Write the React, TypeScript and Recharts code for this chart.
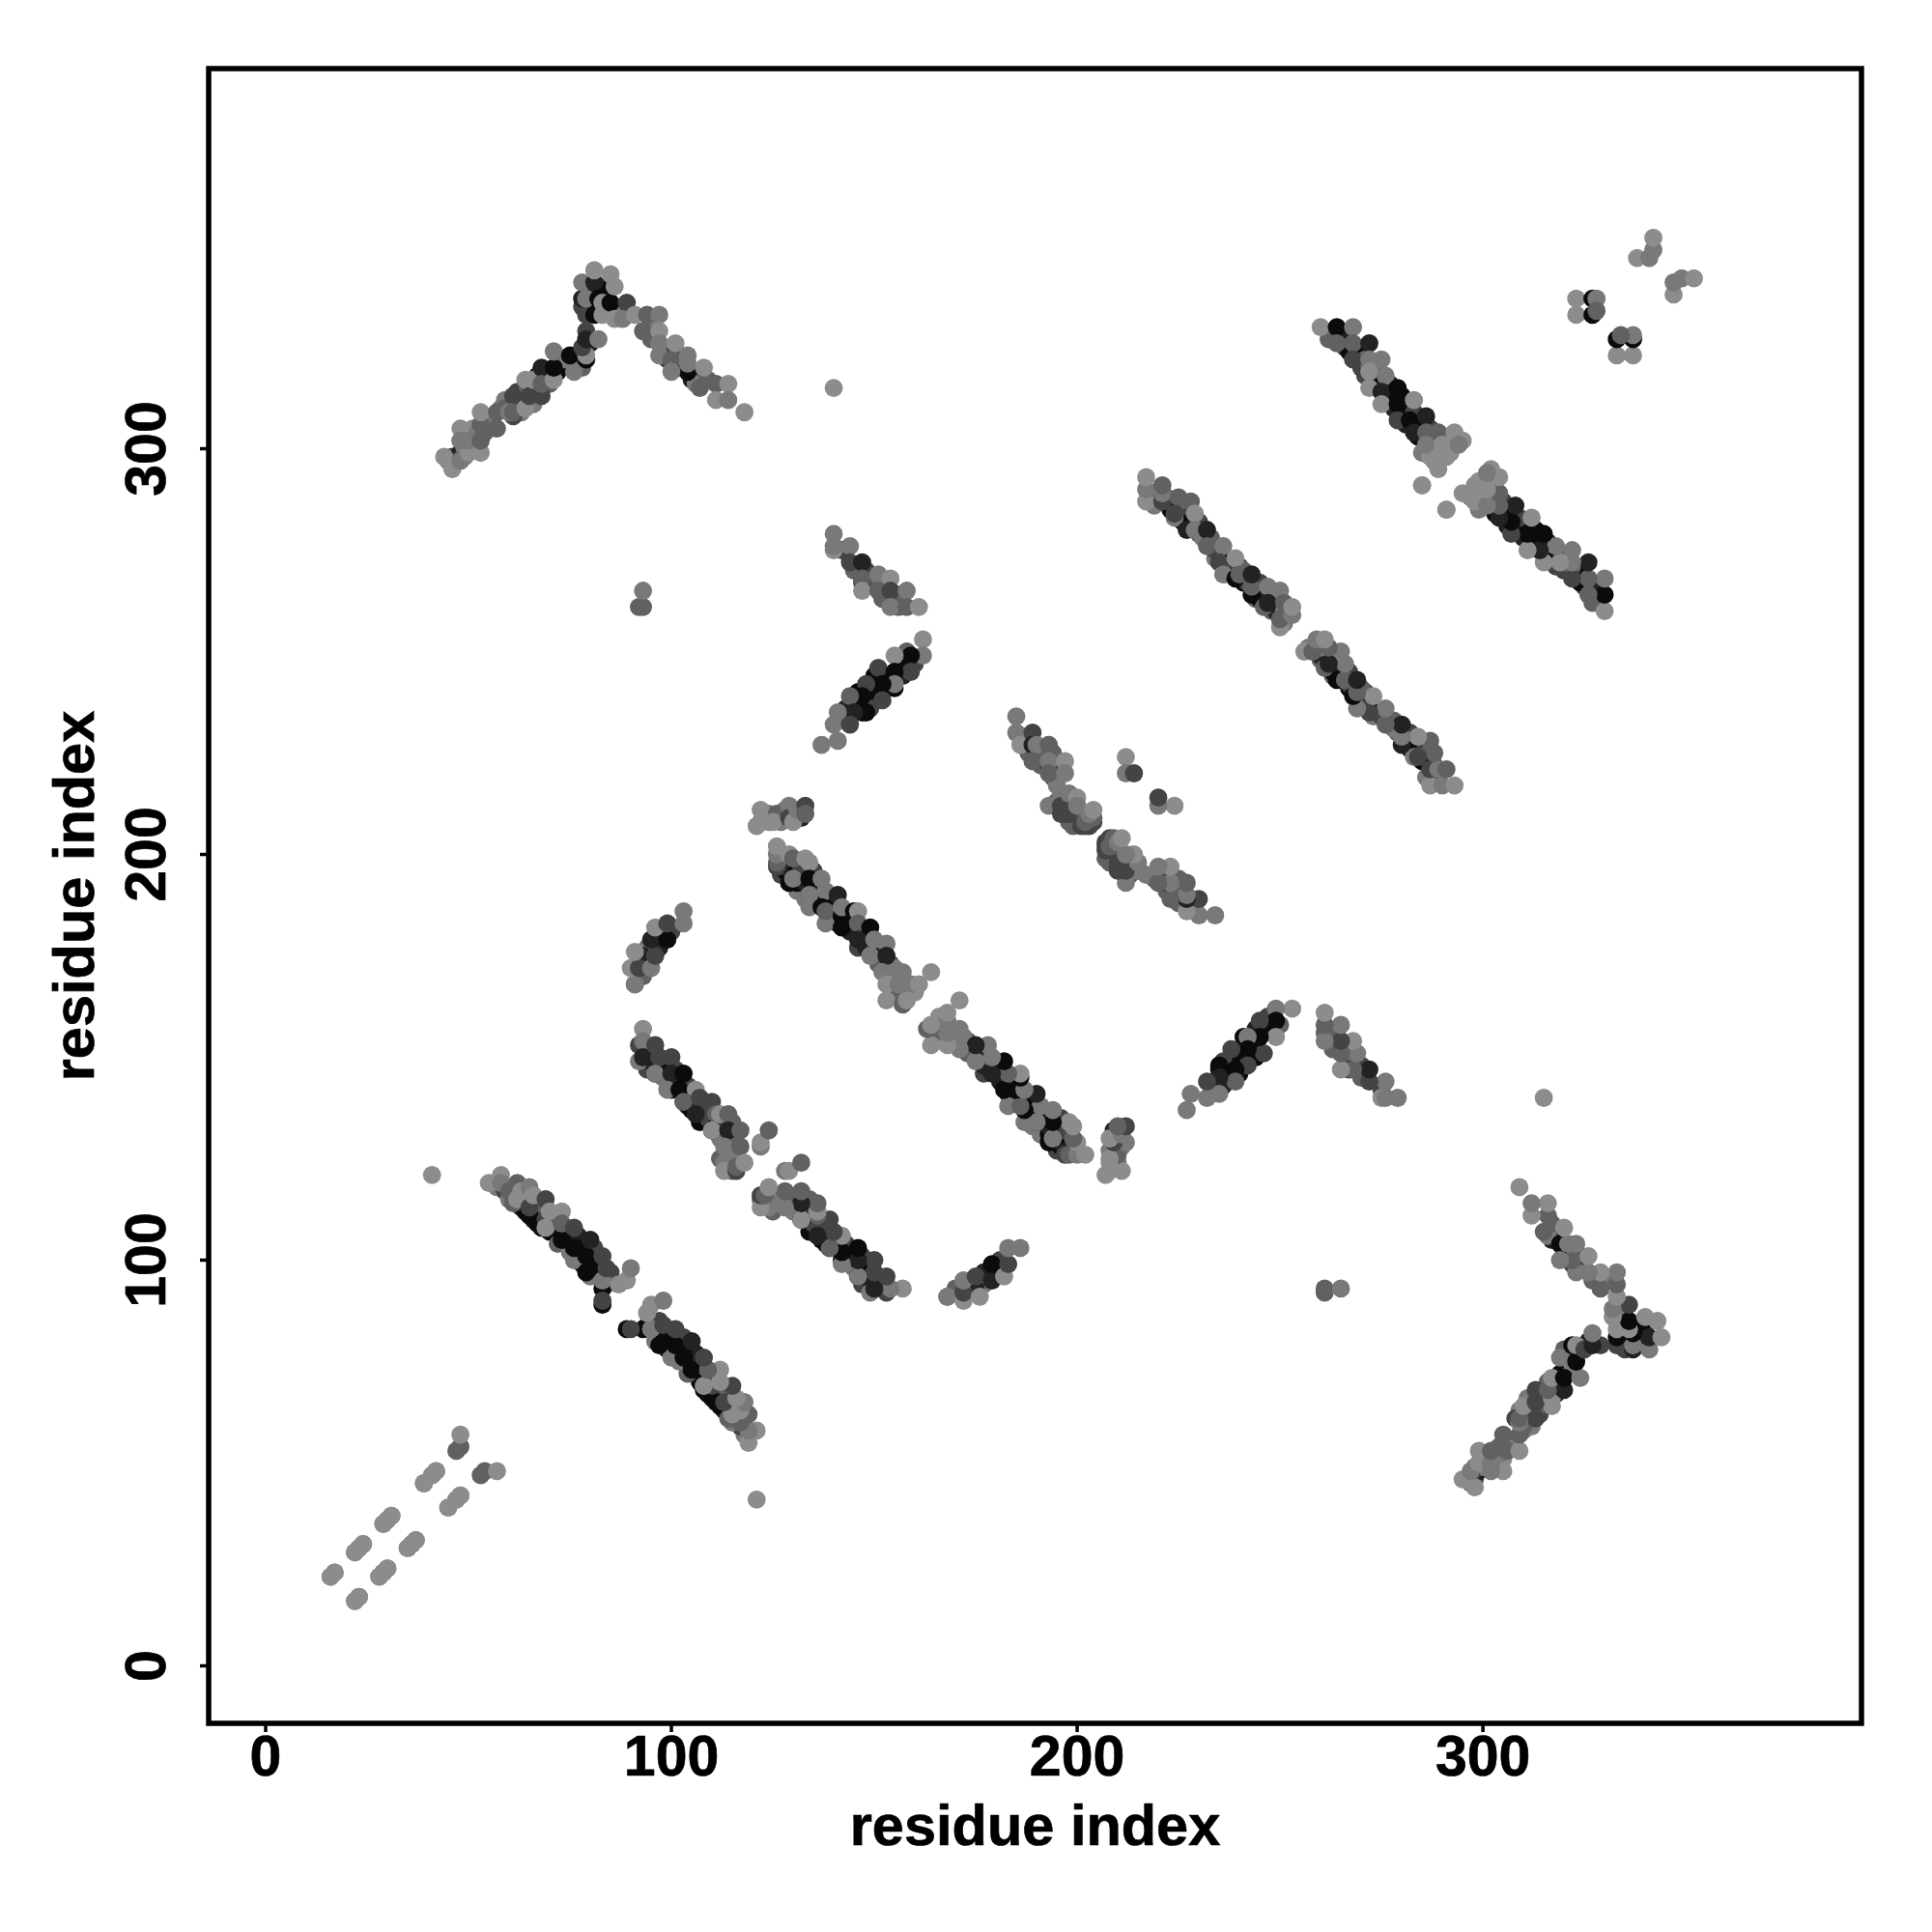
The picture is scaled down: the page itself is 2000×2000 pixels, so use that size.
import React from 'react';
import { ScatterChart, Scatter, XAxis, YAxis, ReferenceArea, Label } from 'recharts';

type P = [number, number, string];
const a = '#0b0b0b', b = '#222222', c = '#444444', d = '#616161', e = '#797979', f = '#8c8c8c';

const tickValues = [0, 100, 200, 300];
const axisTitle = 'residue index';

const helixPairs: P[] = [
  [16,22,f],[17,23,f],[22,16,f],[23,17,f],[22,28,f],[23,29,f],[24,30,f],[28,22,f],[29,23,f],[30,24,f],
  [29,35,f],[30,36,f],[31,37,f],[35,29,f],[36,30,f],[37,31,f],[39,45,f],[41,47,f],[42,48,f],[45,39,f],[47,41,f],[48,42,f],
  [47,53,d],[48,54,d],[48,57,f],[41,121,f],
];
const underB: P[] = [
  [57,118,e],[59,117,c],[60,115,e],[61,116,c],[63,113,b],[64,115,c],[64,112,a],[66,110,b],[67,112,c],[67,114,d],[67,109,a],[70,107,a],[71,110,d],[71,108,b],[72,107,a],[72,104,d],
  [74,107,c],[75,104,a],[75,102,e],[77,106,b],[77,102,a],[78,99,b],[78,103,a],[80,100,a],[81,99,a],[81,103,c],[82,97,a],[82,96,c],[80,96,e],[84,94,d],[85,97,c],[82,98,a],
];
const strandB: P[] = [
  [55,119,f],[58,121,f],[58,119,e],[60,117,d],[61,114,d],[62,115,f],[62,119,d],[63,117,f],[65,111,a],[65,113,c],[65,118,e],[66,116,f],
  [68,108,a],[69,108,d],[69,110,c],[69,115,c],[70,112,f],[69,108,f],[73,112,f],[73,105,a],[73,109,d],[76,100,e],[76,103,a],[76,108,c],
  [79,97,a],[79,101,a],[80,105,b],[83,93,a],[83,95,e],[83,101,c],[84,98,c],[83,89,a],[83,90,c],[87,94,f],[89,95,f],[90,98,e],
];
const underC: P[] = [
  [93,152,b],[94,150,c],[94,147,c],[95,151,c],[95,149,b],[97,147,a],[98,148,b],[98,145,e],[99,147,a],[101,144,a],[101,147,c],[100,142,a],[103,142,a],[104,143,c],[105,140,a],[104,138,b],
  [105,137,a],[106,139,b],[108,136,b],[108,138,c],[107,134,a],[109,135,c],[111,133,a],[112,133,c],[112,130,e],[115,130,d],[115,134,d],[114,127,d],[115,125,d],[112,125,d],[115,122,d],[116,126,e],
];
const strandC: P[] = [
  [93,157,f],[92,153,c],[93,154,e],[92,149,e],[93,150,b],[96,153,c],[97,150,c],[100,150,c],[96,146,a],[96,146,e],[100,146,b],[103,146,a],
  [99,142,e],[102,142,a],[106,142,f],[103,139,a],[103,139,d],[107,140,c],[110,139,c],[106,136,b],[110,132,a],[111,136,d],[112,136,f],[114,136,d],
  [110,132,f],[114,132,b],[117,132,d],[113,128,e],[117,128,d],[113,124,e],[113,122,f],[116,122,c],[116,123,d],[118,124,f],[122,128,e],[122,129,f],[124,132,d],
];
const underD: P[] = [
  [127,195,c],[127,199,e],[128,196,a],[128,198,e],[129,196,b],[131,196,a],[131,191,e],[131,193,a],[132,197,c],[133,193,b],[133,189,e],[135,192,a],[135,196,c],[136,189,a],[136,192,b],[137,190,a],
  [139,189,a],[140,185,c],[139,184,a],[140,188,a],[141,183,a],[143,184,a],[144,181,b],[144,185,c],[147,181,a],[146,177,c],[148,180,a],[148,177,b],[150,176,c],[151,173,d],[151,177,b],[154,173,c],
  [154,170,e],[155,172,e],[155,166,e],[154,167,e],[158,166,f],[160,166,f],[156,165,d],[159,168,e],
];
const strandD: P[] = [
  [126,197,c],[126,198,d],[126,200,e],[126,202,f],[129,193,a],[130,194,e],[129,200,f],[130,199,d],[133,199,f],[134,198,f],[134,194,a],[137,194,e],
  [134,190,b],[134,190,e],[134,187,e],[138,191,e],[141,190,b],[137,187,a],[138,183,e],[138,186,d],[142,185,a],[142,187,e],[145,186,a],[146,186,f],
  [142,182,a],[146,183,d],[149,182,a],[146,179,b],[150,179,e],[153,178,e],[149,175,e],[153,175,b],[152,171,e],[157,171,e],[153,168,f],[156,168,e],
  [161,168,f],[164,171,f],[153,164,f],[157,163,d],[158,164,f],
];
const underE: P[] = [
  [218,288,d],[219,286,e],[220,288,b],[222,288,c],[223,285,a],[225,284,c],[226,285,d],[226,282,b],[227,283,c],[228,282,a],[230,279,d],[230,282,c],[231,278,e],[233,278,d],[234,273,e],[234,275,c],
  [237,272,a],[238,271,b],[237,270,c],[240,271,c],[241,267,a],[241,270,d],[242,267,c],[244,263,d],[245,263,a],[245,267,c],[247,264,b],[248,263,c],[248,260,d],[249,260,b],[251,260,e],[251,257,e],
];
const strandE: P[] = [
  [217,287,f],[217,290,e],[217,293,f],[221,287,c],[221,289,e],[221,291,d],[225,288,d],[228,287,d],[224,283,e],[224,284,c],[229,284,f],[227,280,b],[229,280,e],
  [232,280,b],[232,276,d],[236,276,e],[235,272,c],[236,269,e],[239,273,f],[239,268,a],[240,269,d],[243,264,a],[243,266,d],[243,269,b],[247,266,e],[250,265,e],
  [246,261,d],[247,262,b],[251,262,d],[250,256,f],[250,258,d],[253,259,e],[253,261,f],
];
const underF: P[] = [
  [262,327,d],[265,328,d],[266,327,b],[266,325,c],[267,324,a],[269,324,c],[270,323,a],[270,320,c],[271,322,d],[273,320,a],[273,317,b],[274,320,d],[274,316,a],[276,315,c],[277,313,a],[277,316,b],
  [278,310,b],[280,313,a],[280,309,c],[281,310,a],[281,306,b],[283,309,c],[284,306,a],[284,303,a],[286,303,c],[285,299,e],[287,300,e],[287,305,c],[288,302,e],[290,299,f],[291,303,f],[291,298,f],
  [292,301,e],[292,299,f],[288,297,e],[287,298,f],
];
const strandF: P[] = [
  [260,330,f],[264,330,a],[268,330,e],[264,326,d],[268,326,d],[272,326,b],[268,322,c],[272,322,e],[275,322,e],[271,318,c],[272,319,f],[276,318,e],[272,315,f],[275,314,b],
  [279,315,a],[275,311,f],[279,311,a],[283,312,f],[279,307,c],[282,307,a],[286,308,b],[283,304,b],[286,304,d],[289,304,d],[286,301,e],[293,304,f],[295,302,f],
  [290,301,f],[294,301,e],[289,297,f],[289,295,f],[285,291,f],[291,285,f],
];
const underI: P[] = [
  [45,297,e],[46,298,c],[48,299,b],[49,298,e],[49,300,e],[50,304,d],[51,301,e],[51,305,f],[52,304,e],[54,304,d],[55,307,e],[55,305,d],[56,308,e],[58,310,e],[59,312,e],[59,310,d],
  [62,311,c],[62,314,c],[63,309,e],[63,313,d],[66,311,e],[66,315,d],[67,318,b],[69,316,c],[69,319,a],[70,316,d],[72,319,a],[73,322,e],[77,322,b],[78,320,d],[79,329,c],[80,326,b],
  [78,335,c],[80,339,a],[80,335,a],[82,340,b],[84,338,a],[84,334,e],[83,339,a],[87,334,e],[89,333,e],[95,331,e],[95,327,d],[98,325,d],[99,322,c],[101,324,c],[102,320,c],[103,321,a],
  [106,318,c],[105,317,b],[106,316,e],[109,317,d],
];
const bendI: P[] = [
  [47,297,c],[44,298,f],[46,295,f],[48,297,e],[50,299,f],[48,305,f],[48,302,e],[50,302,e],[53,299,f],[53,302,d],[53,306,d],[53,309,f],[57,309,d],[57,305,d],
  [61,313,c],[61,308,c],[60,309,e],[61,309,d],[64,310,f],[64,317,f],[65,313,c],[68,313,c],[66,317,f],[68,320,b],[68,316,d],[71,317,f],[71,320,a],[71,324,e],
  [76,319,e],[75,323,a],[79,322,a],[79,323,f],[78,325,c],[79,327,b],[82,327,e],[79,333,c],[78,337,b],[79,337,e],[78,341,e],[81,341,b],[81,344,f],[82,337,a],
  [81,333,a],[83,333,f],[83,336,f],[85,343,f],[85,336,a],[86,340,f],[89,336,c],[86,332,f],[88,332,e],[91,333,f],[94,333,d],[97,333,e],[93,329,d],[97,329,f],
  [97,326,e],[97,323,e],[100,322,d],[101,326,f],[104,319,a],[104,323,e],[100,319,e],[104,321,e],[107,315,d],[108,320,f],[111,316,d],[114,316,f],[111,312,f],[114,312,e],[118,309,f],
];
const underG: P[] = [[142,275,c],[145,270,d],[148,270,c],[149,267,d],[150,266,d],[152,263,d],[153,266,c],[156,264,d],[156,261,d]];
const bendG: P[] = [
  [140,279,e],[140,275,f],[140,276,e],[144,276,e],[144,272,c],[147,272,b],[147,267,c],[147,268,d],[151,269,e],[154,268,f],[147,265,f],[151,265,d],[154,265,c],[158,265,e],[154,261,e],[158,261,d],[161,261,f],
];
const underH: P[] = [[160,247,c],[157,248,c],[156,246,a],[157,244,b],[153,244,a],[153,241,a],[150,244,a],[150,240,a],[150,238,b],[149,240,a],[146,237,a],[146,240,a],[147,235,a],[143,236,b],[143,233,d],[142,234,b],[149,236,c]];
const bendH: P[] = [
  [162,253,f],[162,249,e],[158,250,d],[159,249,a],[155,249,f],[159,245,c],[151,246,c],[155,245,a],[155,241,a],[155,242,e],[152,242,a],[148,242,c],[147,239,a],[152,238,c],
  [144,239,d],[148,235,a],[145,235,b],[141,235,e],[140,232,e],[144,232,c],[137,227,e],[141,228,e],
];
const underL: P[] = [[93,170,d],[93,174,c],[94,177,e],[97,177,b],[97,180,a],[100,181,c],[93,175,b]];
const bendL: P[] = [
  [91,168,d],[91,168,e],[90,172,f],[92,172,c],[91,176,f],[95,172,e],[96,175,c],[95,179,b],[99,179,a],[96,182,f],[99,183,c],[103,183,e],[103,186,e],
];
const underK: P[] = [[122,208,f],[124,208,f],[124,210,e],[127,208,e],[127,210,d],[128,211,e],[130,210,b],[132,210,c],[132,209,b]];
const bendK: P[] = [
  [121,207,f],[122,211,f],[123,209,f],[126,210,d],[125,208,f],[129,212,e],[129,209,c],[130,208,f],[131,211,e],[133,212,c],[133,210,d],
];
const underJ: P[] = [
  [187,229,d],[188,225,d],[190,225,c],[191,226,d],[191,222,d],[194,225,d],[195,222,d],[194,219,d],[195,217,e],[197,214,c],[198,212,b],[199,209,c],[200,208,c],[201,209,d],[199,207,d],[198,208,d],
  [195,213,d],[197,210,c],[202,207,d],[203,207,c],[204,208,c],[204,209,d],
];
const strandJ: P[] = [
  [185,234,e],[185,230,e],[186,227,f],[189,230,c],[189,227,b],[190,227,e],[193,227,d],[189,223,d],[193,222,c],[193,223,e],[197,223,f],[193,220,d],[197,220,e],
  [193,212,e],[196,215,e],[196,212,c],[196,210,c],[198,215,e],[198,210,c],[200,214,f],[200,212,e],[201,207,c],[202,208,d],[203,209,d],[203,210,e],[204,211,f],
];
const singles: P[] = [
  [92,261,d],[93,261,d],[93,265,e],[140,315,f],[212,224,f],[212,220,e],[214,220,c],
  [323,337,f],[323,333,f],[327,333,a],[327,337,a],[328,337,e],[328,334,d],
  [338,347,f],[341,347,e],[342,349,e],[342,352,f],
];

const bands: P[][] = [
  underB, underC, underD, underE, underF, underI, underG, underH, underL, underK, underJ,
  helixPairs, strandB, strandC, strandD, strandE, strandF, bendI, bendG, bendH, bendL, bendK, strandJ, singles,
];
const half = bands.flat();
const chartPoints = [...half, ...half.map(([x, y, g]) => [y, x, g] as P)].map(([x, y, g]) => ({ x, y, g }));

const FONT = '"Liberation Sans", Arial, sans-serif';
const FS = 59;
const HEAVY = { stroke: '#000', strokeWidth: 0.7 };

const XTick = (p: any) => (
  <text x={p.x} y={p.y + 45} textAnchor="middle" fontFamily={FONT} fontWeight={700} fontSize={FS} fill="#000" {...HEAVY}>{p.payload.value}</text>
);
const YTick = (p: any) => (
  <text transform={`translate(${p.x - 36},${p.y}) rotate(-90)`} textAnchor="middle" fontFamily={FONT} fontWeight={700} fontSize={FS} fill="#000" {...HEAVY}>{p.payload.value}</text>
);
const Dot = (p: any) => <circle cx={p.cx} cy={p.cy} r={9.4} fill={p.payload.g} />;

const XD: [number, number] = [-14.05, 393.3];
const YD: [number, number] = [-14.17, 393.7];

export default function App() {
  return (
    <div style={{ position: 'absolute', left: 0, top: 0, background: '#fff' }}>
      <ScatterChart width={2000} height={2000} margin={{ top: 71, right: 73, left: 0, bottom: 0 }}>
        <XAxis type="number" dataKey="x" domain={XD} ticks={tickValues} allowDataOverflow height={216} axisLine={false}
          tickSize={9} tickMargin={0} tickLine={{ stroke: '#000', strokeWidth: 3.5 }} tick={XTick} interval={0}>
          <Label value={axisTitle} position="insideBottom" offset={90} fontFamily={FONT} fontWeight={700} fontSize={59.5} fill="#000" {...HEAVY} />
        </XAxis>
        <YAxis type="number" dataKey="y" domain={YD} ticks={tickValues} allowDataOverflow width={216} axisLine={false}
          tickSize={9} tickMargin={0} tickLine={{ stroke: '#000', strokeWidth: 3.5 }} tick={YTick} interval={0}>
          <Label value={axisTitle} angle={-90} position="insideLeft" offset={76} fontFamily={FONT} fontWeight={700} fontSize={59.5} fill="#000" style={{ textAnchor: 'middle' }} {...HEAVY} />
        </YAxis>
        <Scatter data={chartPoints} isAnimationActive={false} shape={Dot} />
        <ReferenceArea x1={XD[0]} x2={XD[1]} y1={YD[0]} y2={YD[1]} fill="none" stroke="#000" strokeWidth={5.5} ifOverflow="visible" />
      </ScatterChart>
    </div>
  );
}
